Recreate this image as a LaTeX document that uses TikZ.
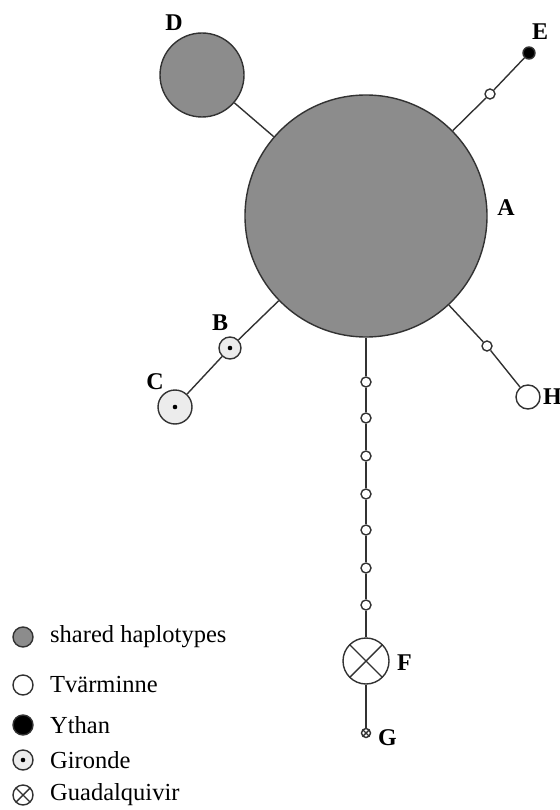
\documentclass[tikz,border=0pt]{standalone}
\usepackage{fontspec}
\setmainfont{Liberation Serif}
\usetikzlibrary{backgrounds}
\definecolor{shared}{RGB}{140,140,140}
\definecolor{gironde}{RGB}{236,236,236}
\definecolor{edge}{RGB}{50,50,50}
\tikzset{
  hap/.style={circle, draw=edge, line width=1.4pt, inner sep=0pt, minimum size=#1},
  sharedhap/.style={hap=#1, fill=shared},
  tvhap/.style={hap=#1, fill=white},
  ythhap/.style={hap=#1, fill=black},
  girhap/.style={hap=#1, fill=gironde,
    path picture={\fill[black] (path picture bounding box.center) circle (2.3pt);}},
  guahap/.style={hap=#1, fill=white,
    path picture={\draw[edge, line width=1.4pt]
      (path picture bounding box.south west) -- (path picture bounding box.north east)
      (path picture bounding box.north west) -- (path picture bounding box.south east);}},
  link/.style={draw=edge, line width=1.4pt},
  hlabel/.style={font=\fontsize{24}{26}\selectfont\bfseries, inner sep=0pt},
  legtext/.style={font=\fontsize{24.5}{27}\selectfont, anchor=west, inner sep=0pt}
}
\begin{document}
\begin{tikzpicture}[x=1pt, y=-1pt]
  \useasboundingbox (0,0) rectangle (559,810);

  % haplotypes
  \node[sharedhap=242pt] (A) at (366,216) {};
  \node[sharedhap=84pt] (D) at (202,75) {};
  \node[tvhap=10pt] (e1) at (490,94) {};
  \node[ythhap=12pt] (E) at (529,53) {};
  \node[girhap=22pt] (B) at (230,348) {};
  \node[girhap=34pt] (C) at (175,407) {};
  \node[tvhap=10pt] (h1) at (487,346) {};
  \node[tvhap=24pt] (H) at (528,397) {};
  \foreach \i/\y in {1/382,2/418,3/456,4/494,5/530,6/568,7/605}
    \node[tvhap=10pt] (v\i) at (366,\y) {};
  \node[guahap=46pt] (F) at (366,661) {};
  \node[guahap=9pt] (G) at (366,733) {};

  % connections
  \begin{scope}[on background layer]
    \draw[link] (A) -- (D);
    \draw[link] (A) -- (e1) -- (E);
    \draw[link] (A) -- (B) -- (C);
    \draw[link] (A) -- (h1) -- (H);
    \draw[link] (A) -- (v1) -- (v2) -- (v3) -- (v4) -- (v5) -- (v6) -- (v7) -- (F) -- (G);
  \end{scope}

  % labels
  \node[hlabel] (lA) at (506,208) {A};
  \node[hlabel] (lB) at (220,323) {B};
  \node[hlabel] (lC) at (155,382) {C};
  \node[hlabel] (lD) at (174,23) {D};
  \node[hlabel] (lE) at (540,32) {E};
  \node[hlabel, anchor=west] (lF) at (397,663) {F};
  \node[hlabel, anchor=west] (lG) at (378,738) {G};
  \node[hlabel, anchor=west] (lH) at (543,397) {H};

  % legend
  \node[sharedhap=20pt] (k1) at (23,637) {};
  \node[tvhap=20pt] (k2) at (23,685) {};
  \node[ythhap=20pt] (k3) at (23,725) {};
  \node[girhap=20pt] (k4) at (23,760) {};
  \node[guahap=20pt] (k5) at (23,795) {};
  \node[legtext] (t1) at (50,637) {shared haplotypes};
  \node[legtext] (t2) at (50,685) {Tvärminne};
  \node[legtext] (t3) at (50,725) {Ythan};
  \node[legtext] (t4) at (50,760) {Gironde};
  \node[legtext] (t5) at (50,795) {Guadalquivir};
\end{tikzpicture}
\end{document}
